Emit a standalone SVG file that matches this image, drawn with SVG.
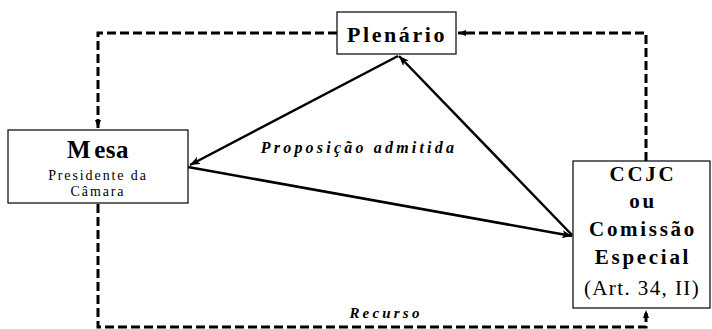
<svg xmlns="http://www.w3.org/2000/svg" width="712" height="329" viewBox="0 0 712 329">
<defs>
<style>
.box{fill:#fff;stroke:#000;stroke-width:1.2}
.solid{fill:none;stroke:#000;stroke-width:2.5}
.dash{fill:none;stroke:#000;stroke-width:3;stroke-dasharray:9 4}
</style>
<marker id="ah" viewBox="0 0 10 8" refX="10" refY="4" markerWidth="10" markerHeight="8" markerUnits="userSpaceOnUse" orient="auto">
<path d="M0,0 L10,4 L0,8 L2.5,4 Z" fill="#000"/>
</marker>
<marker id="ahs" viewBox="0 0 8 6" refX="8" refY="3" markerWidth="8" markerHeight="6" markerUnits="userSpaceOnUse" orient="auto">
<path d="M0,0 L8,3 L0,6 Z" fill="#000"/>
</marker>
</defs>
<rect width="712" height="329" fill="#fff"/>
<g id="connectors">
<path class="dash" d="M337,33 H98 V128" marker-end="url(#ahs)"/>
<path class="dash" d="M646,161 V33 H458" marker-end="url(#ahs)"/>
<path class="dash" d="M98,204 V327 H646 V310" marker-end="url(#ahs)"/>
<line class="solid" x1="398" y1="56" x2="190" y2="165" marker-end="url(#ah)"/>
<line class="solid" x1="572" y1="235" x2="399" y2="56" marker-end="url(#ah)"/>
<line class="solid" x1="188" y1="167" x2="572" y2="236" marker-end="url(#ah)"/>
<g font-family="Liberation Serif, Times New Roman, serif" text-anchor="middle" fill="#000" font-weight="bold" font-style="italic">
<text x="359" y="153" font-size="16" letter-spacing="3.2">Proposição admitida</text>
<text x="386" y="318" font-size="15" letter-spacing="3.2">Recurso</text>
</g>
</g>
<g id="plenario" font-family="Liberation Serif, Times New Roman, serif" text-anchor="middle" fill="#000">
<rect class="box" x="337" y="12" width="119" height="42"/>
<text x="397" y="42" font-size="22" font-weight="bold" letter-spacing="2.6">Plenário</text>
</g>
<g id="mesa" font-family="Liberation Serif, Times New Roman, serif" text-anchor="middle" fill="#000">
<rect class="box" x="8" y="130" width="180" height="73"/>
<text x="98" y="158" font-size="25" font-weight="bold" letter-spacing="0.5">M<tspan dx="3">esa</tspan></text>
<text x="98" y="180" font-size="14" letter-spacing="1.9">Presidente da</text>
<text x="98" y="196" font-size="14" letter-spacing="1.9">Câmara</text>
</g>
<g id="ccjc" font-family="Liberation Serif, Times New Roman, serif" text-anchor="middle" fill="#000">
<rect class="box" x="573" y="161" width="137" height="147"/>
<text x="643" y="181" font-size="21" font-weight="bold" letter-spacing="2.7">CCJC</text>
<text x="643" y="208" font-size="21" font-weight="bold" letter-spacing="2.7">ou</text>
<text x="643" y="236" font-size="21" font-weight="bold" letter-spacing="2.7">Comissão</text>
<text x="643" y="264" font-size="21" font-weight="bold" letter-spacing="2.7">Especial</text>
<text x="642" y="295" font-size="21" letter-spacing="1.4">(Art. 34, II)</text>
</g>
</svg>
